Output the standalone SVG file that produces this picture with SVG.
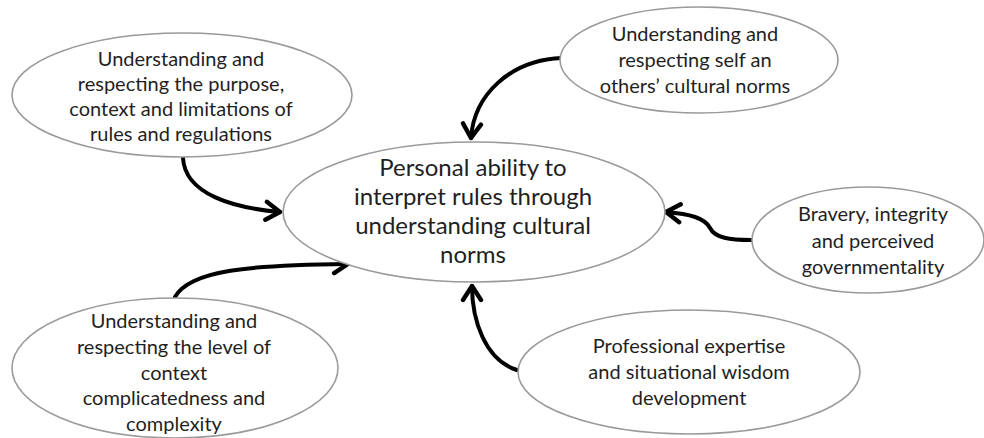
<svg xmlns="http://www.w3.org/2000/svg" width="984" height="438" viewBox="0 0 984 438">
  <defs>
    <marker id="chevron" viewBox="0 0 12 12" refX="9" refY="6" markerWidth="6" markerHeight="6" markerUnits="strokeWidth" orient="auto">
      <path d="M2,1.5 L9,6 L2,10.5" fill="none" stroke="#000" stroke-width="2.2" stroke-linecap="round" stroke-linejoin="round"/>
    </marker>
    <style>
      .node ellipse { fill: #fff; stroke: #9a9a9a; stroke-width: 1.6; }
      .node text { font-family: Lato, "Liberation Sans", sans-serif; fill: #1f1f1f; text-anchor: middle; font-size: 20px; }
      #core text { font-size: 24px; }
      .link { fill: none; stroke: #000; stroke-width: 4; stroke-linecap: round; marker-end: url(#chevron); }
    </style>
  </defs>
  <rect width="984" height="438" fill="#fff"/>

  <g id="connectors">
    <path class="link" d="M183,158 C185,195 235,208 280,212"/>
    <path class="link" d="M562,58 C510,60 474,95 471,138"/>
    <path class="link" d="M751,240 C730,240 715,238 710,228 C705,218 690,214 666,212"/>
    <path class="link" d="M517,370 C485,360 472,320 472,286"/>
    <path class="link" d="M175,297 C190,270 250,265 348,264"/>
  </g>

  <g id="core" class="node">
    <ellipse cx="474" cy="212" rx="191" ry="70"/>
    <text x="473" y="176">Personal ability to</text>
    <text x="473" y="205">interpret rules through</text>
    <text x="473" y="234">understanding cultural</text>
    <text x="473" y="263">norms</text>
  </g>

  <g id="rules" class="node">
    <ellipse cx="182" cy="95" rx="170" ry="62"/>
    <text x="181" y="66">Understanding and</text>
    <text x="181" y="91">respecting the purpose,</text>
    <text x="181" y="116">context and limitations of</text>
    <text x="181" y="141">rules and regulations</text>
  </g>

  <g id="norms" class="node">
    <ellipse cx="699" cy="60" rx="139" ry="53"/>
    <text x="695" y="41">Understanding and</text>
    <text x="695" y="67">respecting self an</text>
    <text x="695" y="93">others’ cultural norms</text>
  </g>

  <g id="bravery" class="node">
    <ellipse cx="868" cy="240" rx="116" ry="53"/>
    <text x="873" y="221">Bravery, integrity</text>
    <text x="873" y="248">and perceived</text>
    <text x="873" y="274">governmentality</text>
  </g>

  <g id="expertise" class="node">
    <ellipse cx="689" cy="372" rx="171" ry="62"/>
    <text x="689" y="353">Professional expertise</text>
    <text x="689" y="379">and situational wisdom</text>
    <text x="689" y="405">development</text>
  </g>

  <g id="complexity" class="node">
    <ellipse cx="175" cy="368" rx="163" ry="70"/>
    <text x="174" y="328">Understanding and</text>
    <text x="174" y="354">respecting the level of</text>
    <text x="174" y="380">context</text>
    <text x="174" y="405">complicatedness and</text>
    <text x="174" y="431">complexity</text>
  </g>
</svg>
